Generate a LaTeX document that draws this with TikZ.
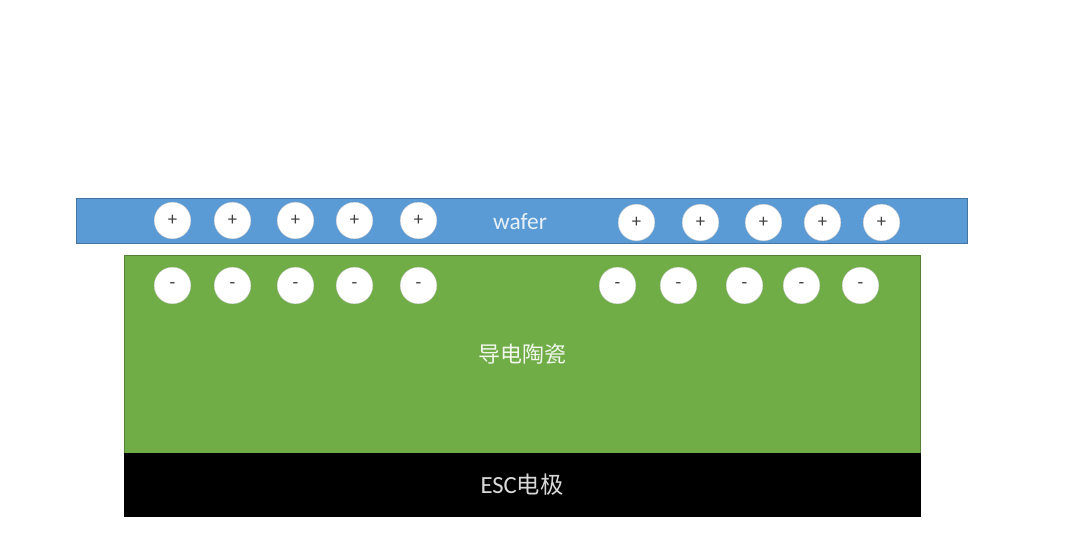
\documentclass[tikz,border=0pt]{standalone}
\usepackage{fontspec}
\setmainfont{Carlito}
\newfontfamily\cjk{Noto Sans CJK SC}
\definecolor{waferblue}{HTML}{5B9BD5}
\definecolor{ceramicgreen}{HTML}{70AD47}
\tikzset{
  layer/.style={draw=#1!75!black, fill=#1, line width=0.5pt, inner sep=0pt, text=white},
  charge/.style={circle, fill=white, draw=black!25, line width=0.2pt, minimum size=27.5pt, inner sep=0pt, text=black!75, font=\fontsize{14}{14}\selectfont},
}
\begin{document}
\begin{tikzpicture}[x=0.75pt, y=-0.75pt]
  \useasboundingbox (0,0) rectangle (1080,540);
  \fill[white] (0,0) rectangle (1080,540);

  % Layers
  \node[layer=waferblue, minimum width=668pt, minimum height=34pt] (wafer) at (521.5,221) {};
  \node[layer=ceramicgreen, minimum width=597pt, minimum height=148.5pt] (ceramic) at (522.3,354) {};
  \node[layer=black, minimum width=597pt, minimum height=47.5pt] (esc) at (522.3,485) {};

  % Labels
  \node[text=white!85!waferblue, font=\fontsize{17.5}{17.5}\selectfont] (waferlabel) at (520,221.5) {wafer};
  \node[text=white!90!ceramicgreen, font=\fontsize{16.5}{16.5}\selectfont\cjk] (ceramiclabel) at (522,354.5) {导电陶瓷};
  \node[text=white!85!black, font=\fontsize{18.5}{18.5}\selectfont] (esclabel) at (522,485) {ESC{\cjk\fontsize{17.5}{17.5}\selectfont 电极}};

  % Charges in the wafer
  \foreach \i/\xpos in {1/172.5, 2/232.5, 3/295.5, 4/354.5, 5/418.5}
    \node[charge] (p\i) at (\xpos,220.5) {+};
  \foreach \i/\xpos in {6/636.5, 7/700.5, 8/763.5, 9/822.5, 10/881.5}
    \node[charge] (p\i) at (\xpos,222.5) {+};

  % Charges in the ceramic
  \foreach \i/\xpos in {1/172.5, 2/232.5, 3/295.5, 4/354.5, 5/418.5, 6/617.5, 7/678.5, 8/744.5, 9/801.5, 10/860.5}
    \node[charge] (m\i) at (\xpos,285.5) {-};
\end{tikzpicture}
\end{document}
